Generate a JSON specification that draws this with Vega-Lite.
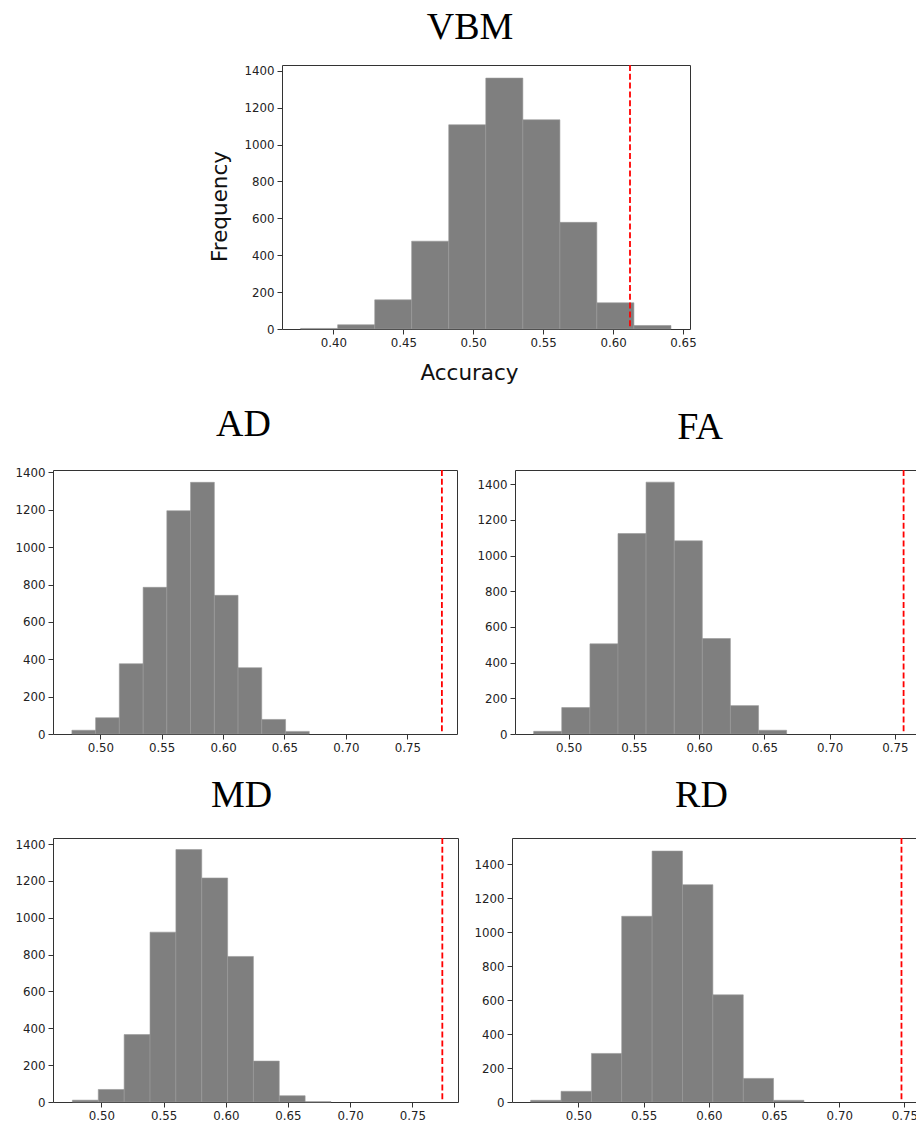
{
  "$schema": "https://vega.github.io/schema/vega-lite/v6.json",
  "background": "white",
  "padding": {"left": 14, "top": 8, "right": 0, "bottom": 0},
  "config": {
    "view": {"stroke": "#333", "strokeWidth": 1},
    "axis": {"grid": false, "domain": false, "tickColor": "#333", "tickSize": 5, "tickWidth": 1, "labelFont": "DejaVu Sans", "labelFontSize": 11.8, "labelColor": "#222", "labelPadding": 3, "labelFlush": false, "labelOverlap": false, "titleFont": "DejaVu Sans", "titleFontSize": 21.5, "titleFontWeight": "normal", "titleColor": "#111"},
    "axisX": {"labelPadding": 3.5},
    "title": {"font": "Liberation Serif", "fontSize": 38, "fontWeight": "normal", "color": "#000", "anchor": "middle", "frame": "group", "baseline": "alphabetic"}
  },
  "datasets": {
    "vbm": [
      {"bin_start": 0.3766, "bin_end": 0.4031, "count": 3},
      {"bin_start": 0.4031, "bin_end": 0.4296, "count": 23},
      {"bin_start": 0.4296, "bin_end": 0.4560, "count": 158},
      {"bin_start": 0.4560, "bin_end": 0.4825, "count": 476},
      {"bin_start": 0.4825, "bin_end": 0.5090, "count": 1107},
      {"bin_start": 0.5090, "bin_end": 0.5355, "count": 1360},
      {"bin_start": 0.5355, "bin_end": 0.5620, "count": 1134},
      {"bin_start": 0.5620, "bin_end": 0.5884, "count": 578},
      {"bin_start": 0.5884, "bin_end": 0.6149, "count": 142},
      {"bin_start": 0.6149, "bin_end": 0.6414, "count": 19}
    ],
    "vbm_obs": [{"observed": 0.6121}],
    "ad": [
      {"bin_start": 0.4769, "bin_end": 0.4962, "count": 20},
      {"bin_start": 0.4962, "bin_end": 0.5155, "count": 87},
      {"bin_start": 0.5155, "bin_end": 0.5349, "count": 376},
      {"bin_start": 0.5349, "bin_end": 0.5542, "count": 785},
      {"bin_start": 0.5542, "bin_end": 0.5735, "count": 1195},
      {"bin_start": 0.5735, "bin_end": 0.5929, "count": 1347},
      {"bin_start": 0.5929, "bin_end": 0.6122, "count": 742},
      {"bin_start": 0.6122, "bin_end": 0.6315, "count": 355},
      {"bin_start": 0.6315, "bin_end": 0.6509, "count": 78},
      {"bin_start": 0.6509, "bin_end": 0.6702, "count": 14}
    ],
    "ad_obs": [{"observed": 0.7782}],
    "fa": [
      {"bin_start": 0.4732, "bin_end": 0.4947, "count": 15},
      {"bin_start": 0.4947, "bin_end": 0.5163, "count": 148},
      {"bin_start": 0.5163, "bin_end": 0.5378, "count": 505},
      {"bin_start": 0.5378, "bin_end": 0.5593, "count": 1123},
      {"bin_start": 0.5593, "bin_end": 0.5809, "count": 1411},
      {"bin_start": 0.5809, "bin_end": 0.6024, "count": 1082},
      {"bin_start": 0.6024, "bin_end": 0.6239, "count": 535},
      {"bin_start": 0.6239, "bin_end": 0.6455, "count": 159},
      {"bin_start": 0.6455, "bin_end": 0.6670, "count": 21}
    ],
    "fa_obs": [{"observed": 0.7566}],
    "md": [
      {"bin_start": 0.4767, "bin_end": 0.4975, "count": 10},
      {"bin_start": 0.4975, "bin_end": 0.5183, "count": 68},
      {"bin_start": 0.5183, "bin_end": 0.5391, "count": 366},
      {"bin_start": 0.5391, "bin_end": 0.5599, "count": 922},
      {"bin_start": 0.5599, "bin_end": 0.5807, "count": 1370},
      {"bin_start": 0.5807, "bin_end": 0.6015, "count": 1216},
      {"bin_start": 0.6015, "bin_end": 0.6222, "count": 790},
      {"bin_start": 0.6222, "bin_end": 0.6430, "count": 222},
      {"bin_start": 0.6430, "bin_end": 0.6638, "count": 34},
      {"bin_start": 0.6638, "bin_end": 0.6846, "count": 2}
    ],
    "md_obs": [{"observed": 0.7741}],
    "rd": [
      {"bin_start": 0.4634, "bin_end": 0.4867, "count": 10},
      {"bin_start": 0.4867, "bin_end": 0.5100, "count": 63},
      {"bin_start": 0.5100, "bin_end": 0.5332, "count": 286},
      {"bin_start": 0.5332, "bin_end": 0.5565, "count": 1094},
      {"bin_start": 0.5565, "bin_end": 0.5798, "count": 1478},
      {"bin_start": 0.5798, "bin_end": 0.6031, "count": 1280},
      {"bin_start": 0.6031, "bin_end": 0.6264, "count": 631},
      {"bin_start": 0.6264, "bin_end": 0.6496, "count": 139},
      {"bin_start": 0.6496, "bin_end": 0.6729, "count": 10}
    ],
    "rd_obs": [{"observed": 0.7477}]
  },
  "spacing": 21,
  "vconcat": [
    {
      "bounds": "flush",
      "spacing": 219,
      "hconcat": [
        {"width": 10, "height": 10, "data": {"values": []}, "mark": "point", "view": {"stroke": null}},
        {
          "width": 408, "height": 264,
          "title": {"text": "VBM", "dx": -16, "offset": 17},
          "layer": [
            {
              "data": {"name": "vbm"},
              "mark": {"type": "bar", "fill": "#7f7f7f", "stroke": "#999999", "strokeWidth": 0.6},
              "encoding": {
                "x": {"field": "bin_start", "type": "quantitative", "scale": {"domain": [0.3633, 0.6550], "nice": false, "zero": false},
                      "axis": {"title": "Accuracy", "values": [0.40, 0.45, 0.50, 0.55, 0.60, 0.65], "format": ".2f", "titleX": 187, "titleY": 50, "titleAlign": "center", "titleBaseline": "alphabetic"}},
                "x2": {"field": "bin_end"},
                "y": {"field": "count", "type": "quantitative", "scale": {"domain": [0, 1431], "nice": false},
                      "axis": {"title": "Frequency", "values": [0, 200, 400, 600, 800, 1000, 1200, 1400], "format": "d", "titleX": -56, "titleY": 141, "titleAngle": -90, "titleAlign": "center", "titleBaseline": "alphabetic"}},
                "y2": {"datum": 0}
              }
            },
            {
              "data": {"name": "vbm_obs"},
              "mark": {"type": "rule", "color": "#ff0000", "strokeWidth": 1.8, "strokeDash": [6, 2.8]},
              "encoding": {"x": {"field": "observed", "type": "quantitative", "title": "Accuracy"}}
            }
          ]
        }
      ]
    },
    {
      "bounds": "flush",
      "spacing": 58,
      "hconcat": [
        {
          "width": 404, "height": 264,
          "title": {"text": "AD", "dx": -11.5, "offset": 23.5},
          "layer": [
            {
              "data": {"name": "ad"},
              "mark": {"type": "bar", "fill": "#7f7f7f", "stroke": "#999999", "strokeWidth": 0.6},
              "encoding": {
                "x": {"field": "bin_start", "type": "quantitative", "scale": {"domain": [0.4615, 0.7905], "nice": false, "zero": false},
                      "axis": {"title": null, "values": [0.50, 0.55, 0.60, 0.65, 0.70, 0.75], "format": ".2f"}},
                "x2": {"field": "bin_end"},
                "y": {"field": "count", "type": "quantitative", "scale": {"domain": [0, 1413], "nice": false},
                      "axis": {"title": null, "values": [0, 200, 400, 600, 800, 1000, 1200, 1400], "format": "d"}},
                "y2": {"datum": 0}
              }
            },
            {
              "data": {"name": "ad_obs"},
              "mark": {"type": "rule", "color": "#ff0000", "strokeWidth": 1.8, "strokeDash": [6, 2.8]},
              "encoding": {"x": {"field": "observed", "type": "quantitative", "title": null}}
            }
          ]
        },
        {
          "width": 407, "height": 264,
          "title": {"text": "FA", "dx": -18.5, "offset": 22.5},
          "layer": [
            {
              "data": {"name": "fa"},
              "mark": {"type": "bar", "fill": "#7f7f7f", "stroke": "#999999", "strokeWidth": 0.6},
              "encoding": {
                "x": {"field": "bin_start", "type": "quantitative", "scale": {"domain": [0.4589, 0.7707], "nice": false, "zero": false},
                      "axis": {"title": null, "values": [0.50, 0.55, 0.60, 0.65, 0.70, 0.75], "format": ".2f"}},
                "x2": {"field": "bin_end"},
                "y": {"field": "count", "type": "quantitative", "scale": {"domain": [0, 1479], "nice": false},
                      "axis": {"title": null, "values": [0, 200, 400, 600, 800, 1000, 1200, 1400], "format": "d"}},
                "y2": {"datum": 0}
              }
            },
            {
              "data": {"name": "fa_obs"},
              "mark": {"type": "rule", "color": "#ff0000", "strokeWidth": 1.8, "strokeDash": [6, 2.8]},
              "encoding": {"x": {"field": "observed", "type": "quantitative", "title": null}}
            }
          ]
        }
      ]
    },
    {
      "bounds": "flush",
      "spacing": 54,
      "hconcat": [
        {
          "width": 405, "height": 264,
          "title": {"text": "MD", "dx": -14, "offset": 22.5},
          "layer": [
            {
              "data": {"name": "md"},
              "mark": {"type": "bar", "fill": "#7f7f7f", "stroke": "#999999", "strokeWidth": 0.6},
              "encoding": {
                "x": {"field": "bin_start", "type": "quantitative", "scale": {"domain": [0.4611, 0.7867], "nice": false, "zero": false},
                      "axis": {"title": null, "values": [0.50, 0.55, 0.60, 0.65, 0.70, 0.75], "format": ".2f"}},
                "x2": {"field": "bin_end"},
                "y": {"field": "count", "type": "quantitative", "scale": {"domain": [0, 1433], "nice": false},
                      "axis": {"title": null, "values": [0, 200, 400, 600, 800, 1000, 1200, 1400], "format": "d"}},
                "y2": {"datum": 0}
              }
            },
            {
              "data": {"name": "md_obs"},
              "mark": {"type": "rule", "color": "#ff0000", "strokeWidth": 1.8, "strokeDash": [6, 2.8]},
              "encoding": {"x": {"field": "observed", "type": "quantitative", "title": null}}
            }
          ]
        },
        {
          "width": 408, "height": 264,
          "title": {"text": "RD", "dx": -14.5, "offset": 22},
          "layer": [
            {
              "data": {"name": "rd"},
              "mark": {"type": "bar", "fill": "#7f7f7f", "stroke": "#999999", "strokeWidth": 0.6},
              "encoding": {
                "x": {"field": "bin_start", "type": "quantitative", "scale": {"domain": [0.4491, 0.7619], "nice": false, "zero": false},
                      "axis": {"title": null, "values": [0.50, 0.55, 0.60, 0.65, 0.70, 0.75], "format": ".2f"}},
                "x2": {"field": "bin_end"},
                "y": {"field": "count", "type": "quantitative", "scale": {"domain": [0, 1555], "nice": false},
                      "axis": {"title": null, "values": [0, 200, 400, 600, 800, 1000, 1200, 1400], "format": "d"}},
                "y2": {"datum": 0}
              }
            },
            {
              "data": {"name": "rd_obs"},
              "mark": {"type": "rule", "color": "#ff0000", "strokeWidth": 1.8, "strokeDash": [6, 2.8]},
              "encoding": {"x": {"field": "observed", "type": "quantitative", "title": null}}
            }
          ]
        }
      ]
    }
  ]
}
